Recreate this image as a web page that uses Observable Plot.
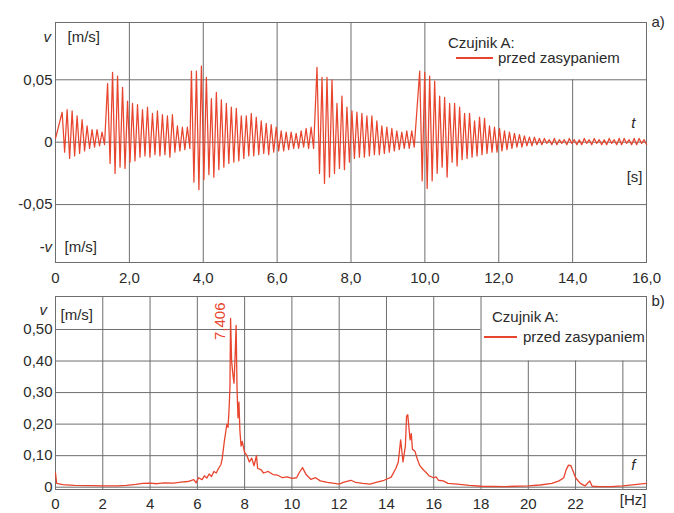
<!DOCTYPE html>
<html><head><meta charset="utf-8">
<script src="https://cdn.jsdelivr.net/npm/d3@7"></script>
<script src="https://cdn.jsdelivr.net/npm/@observablehq/plot@0.6"></script>
<style>
body{margin:0;background:#fff;}
#wrap{position:relative;width:674px;height:513px;font-family:"Liberation Sans",Arial,sans-serif;color:#2a2a2a;overflow:hidden;}
#wrap svg{position:absolute;left:0;}
.lg{position:absolute;font-size:15px;line-height:16px;white-space:nowrap;}
.ln{position:absolute;height:1.6px;background:#e8452e;}
</style></head><body><div id="wrap"></div>
<script>
// ---- a) time signal, sensor A (peak amplitudes per half-cycle, m/s) ----
const period = 0.135;                       // s, ~7.4 Hz oscillation
const burstStart = [0.18, 1.41, 3.68, 7.08, 9.86];
const up0 = [0.024,0.026,0.025,0.021,0.018,0.013,0.010,0.010,0.008];
const low0 = [-0.008,-0.013,-0.011,-0.009,-0.007,-0.005,-0.004,-0.003,-0.002];
const up1 = [0.047,0.056,0.053,0.044,0.033,0.031,0.030,0.026,0.028,0.023,0.025,0.022,0.021,0.022,0.013,0.012,0.012];
const low1 = [-0.017,-0.025,-0.020,-0.021,-0.016,-0.015,-0.012,-0.011,-0.012,-0.010,-0.011,-0.010,-0.012,-0.008,-0.007,-0.006,-0.005];
const up2 = [0.057,0.057,0.061,0.052,0.035,0.040,0.034,0.031,0.028,0.027,0.021,0.021,0.023,0.020,0.017,0.015,0.014,0.012,0.009,0.008,0.008,0.007,0.009,0.011,0.012];
const low2 = [-0.032,-0.038,-0.030,-0.026,-0.028,-0.022,-0.020,-0.017,-0.016,-0.015,-0.013,-0.011,-0.011,-0.010,-0.009,-0.010,-0.008,-0.007,-0.007,-0.006,-0.005,-0.005,-0.004,-0.005,-0.005];
const up3 = [0.060,0.052,0.052,0.050,0.031,0.037,0.028,0.025,0.024,0.023,0.021,0.021,0.017,0.013,0.012,0.011,0.009,0.008,0.009,0.009];
const low3 = [-0.025,-0.033,-0.028,-0.025,-0.021,-0.022,-0.016,-0.013,-0.012,-0.012,-0.011,-0.010,-0.010,-0.009,-0.008,-0.007,-0.006,-0.005,-0.005,-0.004];
const up4 = [0.057,0.056,0.053,0.049,0.037,0.036,0.031,0.031,0.028,0.023,0.023,0.017,0.020,0.019,0.013,0.012,0.011,0.009,0.008,0.007,0.006,0.005,0.004,0.004,
             0.003,0.003,0.002,0.003,0.002,0.002,0.003,0.002,0.002,0.003,0.002,0.003,0.002,0.002,0.003,0.002,0.003,0.003,0.002,0.003,0.003,0.002];
const low4 = [-0.031,-0.037,-0.031,-0.025,-0.020,-0.028,-0.016,-0.019,-0.014,-0.013,-0.012,-0.011,-0.010,-0.009,-0.008,-0.008,-0.007,-0.006,-0.005,-0.004,-0.004,-0.003,-0.003,-0.002,
              -0.002,-0.001,-0.002,-0.002,-0.001,-0.002,-0.001,-0.002,-0.002,-0.001,-0.002,-0.001,-0.002,-0.002,-0.001,-0.002,-0.002,-0.001,-0.002,-0.002,-0.001,-0.002];
const ups = [up0, up1, up2, up3, up4];
const lows = [low0, low1, low2, low3, low4];
const tTicks = [0, 2, 4, 6, 8, 10, 12, 14, 16];
const vTicksA = [-0.05, 0, 0.05];

// ---- b) amplitude spectrum ----
const specF = [0,0.05,0.3,0.8,1.5,2.0,2.6,3.0,3.4,3.7,4.0,4.3,4.6,5.0,5.3,5.6,5.85,5.95,6.05,6.2,6.3,6.4,6.5,6.6,6.7,6.8,6.9,7.0,7.05,7.1,7.15,7.2,7.25,7.3,7.35,7.38,7.406,7.45,7.5,7.55,7.6,7.64,7.68,7.72,7.76,7.8,7.85,7.9,8.0,8.1,8.2,8.3,8.4,8.5,8.55,8.7,8.8,9.0,9.2,9.4,9.6,9.8,10.0,10.2,10.3,10.45,10.6,10.8,11.0,11.2,11.5,11.8,12.0,12.2,12.5,12.7,13.0,13.3,13.6,13.9,14.2,14.4,14.5,14.6,14.7,14.8,14.85,14.9,14.95,15.0,15.05,15.1,15.2,15.3,15.4,15.5,15.6,15.7,15.8,16.0,16.1,16.2,16.4,16.6,17.0,17.5,18.0,19.0,20.0,20.5,21.0,21.3,21.5,21.6,21.7,21.8,21.9,22.0,22.2,22.4,22.6,22.7,23.0,23.5,24.0,24.5,25.0];
const specV = [0.045,0.012,0.008,0.006,0.005,0.004,0.004,0.006,0.009,0.012,0.013,0.011,0.014,0.013,0.016,0.018,0.024,0.014,0.030,0.024,0.036,0.029,0.042,0.034,0.050,0.045,0.060,0.072,0.090,0.120,0.150,0.175,0.200,0.190,0.260,0.320,0.535,0.400,0.360,0.330,0.420,0.513,0.310,0.220,0.270,0.180,0.130,0.145,0.110,0.100,0.080,0.092,0.068,0.100,0.060,0.055,0.045,0.050,0.040,0.038,0.030,0.033,0.028,0.030,0.045,0.062,0.040,0.025,0.030,0.020,0.015,0.012,0.010,0.016,0.022,0.015,0.012,0.010,0.016,0.022,0.032,0.060,0.080,0.150,0.080,0.130,0.225,0.230,0.190,0.150,0.170,0.120,0.115,0.090,0.070,0.060,0.052,0.045,0.036,0.030,0.033,0.022,0.020,0.012,0.010,0.006,0.003,0.002,0.004,0.007,0.012,0.020,0.030,0.055,0.070,0.068,0.050,0.030,0.012,0.004,0.020,0.003,0.002,0.002,0.004,0.008,0.012];
const fTicks = [0, 2, 4, 6, 8, 10, 12, 14, 16, 18, 20, 22, 24];
const vTicksB = [0, 0.1, 0.2, 0.3, 0.4, 0.5];
const peakF = 7.406;

const legendTitle = "Czujnik A:";
const legendSeries = "przed zasypaniem";

// ---- build tables ----
const signal = [{t: 0, v: 0.003}];
burstStart.forEach((s, b) => {
  ups[b].forEach((u, i) => {
    signal.push({t: s + i * period, v: u});
    signal.push({t: s + (i + 0.5) * period, v: lows[b][i]});
  });
});
const spectrum = specF.map((f, i) => ({f, v: specV[i]}));

const red = "#e8452e";
const gridC = "#6e6e6e";
const comma = (d, n) => d === 0 ? "0" : d.toFixed(n).replace(".", ",");
const style = {fontFamily: "'Liberation Sans', Arial, sans-serif", fontSize: "15px", color: "#2a2a2a", background: "white", overflow: "visible"};
const lbl = (s, o) => Plot.text([s], {text: d => d, fill: "#2a2a2a", fontSize: 15, ...o});

const yA = [-0.0964, 0.0959];
const p1 = Plot.plot({
  width: 674, height: 290,
  marginLeft: 55, marginRight: 28, marginTop: 22, marginBottom: 28,
  style,
  x: {domain: [0, 16], ticks: tTicks, tickSize: 0, tickPadding: 10, tickFormat: d => comma(d, 1), label: null},
  y: {domain: yA, ticks: vTicksA, tickSize: 0, tickPadding: 3, tickFormat: d => comma(d, 2), label: null},
  marks: [
    Plot.ruleY(vTicksA, {stroke: gridC, strokeOpacity: 1}),
    Plot.ruleX(tTicks.filter(t => t > 0 && t < 16), {stroke: gridC, y1: yA[0], y2: t => t > 10 ? 0.05 : yA[1]}),
    Plot.frame({stroke: gridC}),
    Plot.line(signal, {x: "t", y: "v", stroke: red, strokeWidth: 1.25}),
    lbl("v", {frameAnchor: "top-left", dx: -12, dy: 9, fontStyle: "italic"}),
    lbl("[m/s]", {frameAnchor: "top-left", textAnchor: "start", dx: 12, dy: 9}),
    lbl("-v", {frameAnchor: "bottom-left", dx: -16, dy: -11, fontStyle: "italic"}),
    lbl("[m/s]", {frameAnchor: "bottom-left", textAnchor: "start", dx: 9, dy: -11}),
    lbl("t", {frameAnchor: "top-right", dx: -11, dy: 95, fontStyle: "italic"}),
    lbl("[s]", {frameAnchor: "top-right", textAnchor: "end", dx: -4, dy: 149}),
    lbl("a)", {frameAnchor: "top-right", textAnchor: "start", dx: 5, dy: -6})
  ]
});
p1.style.top = "0px";

const yB = [-0.0073, 0.6046];
const p2 = Plot.plot({
  width: 674, height: 223,
  marginLeft: 55, marginRight: 28, marginTop: 6, marginBottom: 24,
  style,
  x: {domain: [0, 25], ticks: fTicks.filter(f => f < 24), tickSize: 0, tickPadding: 9, tickFormat: d => String(d), label: null},
  y: {domain: yB, ticks: vTicksB, tickSize: 0, tickPadding: 3, tickFormat: d => comma(d, 2), label: null},
  marks: [
    Plot.ruleY(vTicksB, {stroke: gridC, x1: 0, x2: v => v > 0.4 ? 18 : 25}),
    Plot.ruleX(fTicks.filter(f => f > 0), {stroke: gridC, y1: yB[0], y2: f => f > 18 ? 0.4 : yB[1]}),
    Plot.frame({stroke: gridC}),
    Plot.line(spectrum, {x: "f", y: "v", stroke: red, strokeWidth: 1.3}),
    Plot.text([peakF], {x: d => d, text: d => comma(d, 3), frameAnchor: "top", rotate: -90, textAnchor: "end", dx: -16, dy: 6, fill: red, fontSize: 15}),
    lbl("v", {frameAnchor: "top-left", dx: -16, dy: 8, fontStyle: "italic"}),
    lbl("[m/s]", {frameAnchor: "top-left", textAnchor: "start", dx: 5, dy: 13}),
    lbl("f", {frameAnchor: "bottom-right", dx: -11, dy: -20, fontStyle: "italic"}),
    lbl("[Hz]", {frameAnchor: "bottom-right", textAnchor: "end", dy: 15}),
    lbl("b)", {frameAnchor: "top-right", textAnchor: "start", dx: 5, dy: -1})
  ]
});
p2.style.top = "290px";

const wrap = document.getElementById("wrap");
wrap.append(p1, p2);

// legends (HTML overlay)
function legend(yTitle, xTitle, lineX, lineW, lineY, textX) {
  const t = document.createElement("div");
  t.className = "lg"; t.textContent = legendTitle;
  t.style.left = xTitle + "px"; t.style.top = (yTitle - 8) + "px";
  const l = document.createElement("div");
  l.className = "ln"; l.style.left = lineX + "px"; l.style.width = lineW + "px"; l.style.top = (lineY - 1) + "px";
  const s = document.createElement("div");
  s.className = "lg"; s.textContent = legendSeries;
  s.style.left = textX + "px"; s.style.top = (lineY - 8) + "px";
  wrap.append(t, l, s);
}
legend(43, 448, 456, 37, 58, 498);
legend(317, 492, 484, 33, 337, 523);
</script></body></html>
